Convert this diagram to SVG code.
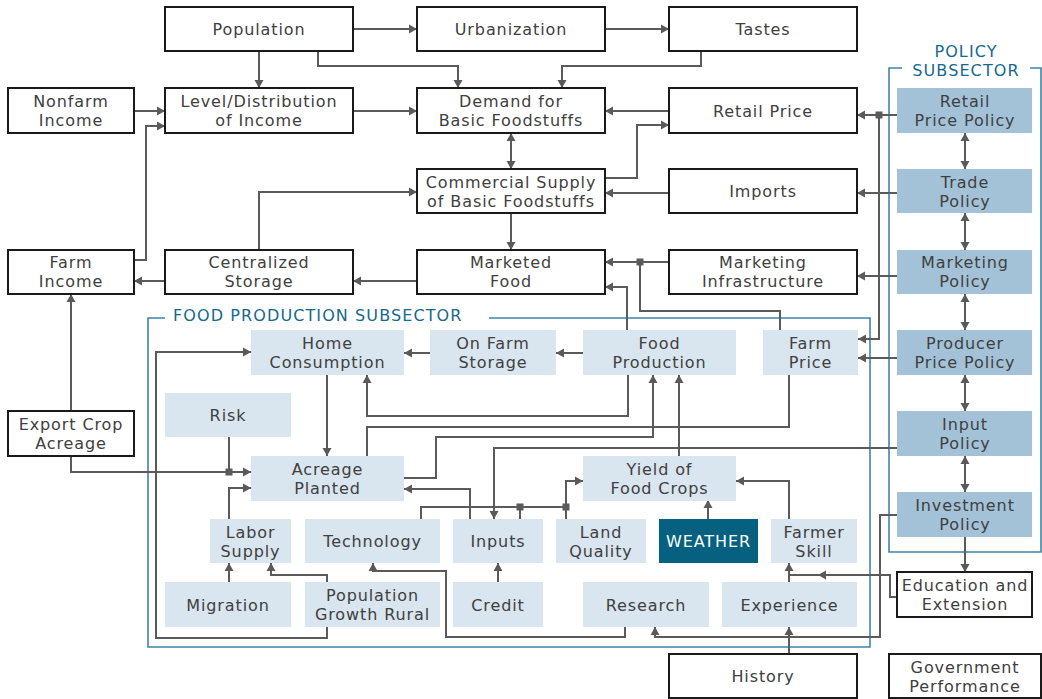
<svg xmlns="http://www.w3.org/2000/svg" width="1042" height="699" viewBox="0 0 1042 699">
<defs>
<marker id="ah" markerUnits="userSpaceOnUse" markerWidth="10" markerHeight="10" refX="8" refY="5" orient="auto-start-reverse" viewBox="0 0 10 10"><path d="M0,0.5 L8,5 L0,9.5 z" fill="#5a5a5a"/></marker>
<style>
.b{fill:#fff;stroke:#1a1a1a;stroke-width:2}
.f{fill:#d9e5ef}
.p{fill:#a3c2d8}
.w{fill:#05617f}
text{font-family:"DejaVu Sans","Open Sans",sans-serif;font-size:16px;fill:#404040;text-anchor:middle;letter-spacing:0.9px}
.tw{fill:#fff}
.lbl{fill:#15698d;text-anchor:start;letter-spacing:1.1px}
.lc{fill:#15698d;letter-spacing:1.1px}
.sub{fill:none;stroke:#3f85a8;stroke-width:1.6}
.c path{fill:none;stroke:#5a5a5a;stroke-width:2}
.a{marker-end:url(#ah)}
.d{marker-start:url(#ah);marker-end:url(#ah)}
.j{fill:#5a5a5a}
</style>
</defs>
<rect width="1042" height="699" fill="#fff"/>

<g id="subsectors">
<path class="sub" d="M165,318 H148 V647 H870 V318 H489"/>
<text class="lbl" x="173" y="321">FOOD PRODUCTION SUBSECTOR</text>
<path class="sub" d="M902,68 H889 V552 H1041 V68 H1030"/>
<text class="lc" x="966" y="57">POLICY</text>
<text class="lc" x="966" y="76">SUBSECTOR</text>
</g>

<g id="connectors" class="c">
<path class="a" d="M353,29 H417"/>
<path class="a" d="M605,29 H669"/>
<path class="a" d="M259,51 V88"/>
<path class="a" d="M318,51 V66 H458 V88"/>
<path class="a" d="M701,51 V66 H562 V88"/>
<path class="a" d="M134,111 H165"/>
<path class="a" d="M353,111 H417"/>
<path class="a" d="M669,111 H605"/>
<path class="d" d="M511,133 V169"/>
<path class="a" d="M605,178 H637 V125 H669"/>
<path class="a" d="M669,193 H605"/>
<path class="a" d="M259,250 V192 H417"/>
<path class="a" d="M511,213 V250"/>
<path class="a" d="M417,281 H353"/>
<path class="a" d="M165,281 H134"/>
<path class="a" d="M134,260 H146 V126 H165"/>
<path class="a" d="M669,262 H605"/>
<path d="M780,330 V311 H640 V262"/>
<path class="a" d="M627,330 V287 H605"/>
<path class="a" d="M897,115 H857"/>
<path class="a" d="M879,115 V339 H858"/>
<path class="a" d="M897,193 H857"/>
<path class="a" d="M897,276 H857"/>
<path class="a" d="M897,358 H858"/>
<path class="a" d="M897,448 H494 V519"/>
<path class="a" d="M965,537 V572"/>
<path class="a" d="M897,515 H880 V637 H655 V627"/>
<path class="a" d="M897,597 H890 V575 H818"/>
<path d="M818,575 H789"/>
<path class="a" d="M789,654 V627"/>
<path class="a" d="M789,582 V563"/>
<path class="a" d="M789,519 V481 H736"/>
<path class="a" d="M708,519 V500"/>
<path class="a" d="M679,456 V375"/>
<path d="M789,375 V427 H367 V456"/>
<path class="a" d="M628,375 V416 H367 V375"/>
<path class="a" d="M404,478 H436 V437 H653 V375"/>
<path class="a" d="M470,519 V489 H404"/>
<path d="M421,519 V507 H566"/>
<path d="M520,519 V507"/>
<path class="a" d="M566,519 V481 H583"/>
<path d="M229,437 V472"/>
<path class="a" d="M71,456 V472 H251"/>
<path class="a" d="M71,411 V294"/>
<path class="a" d="M327,375 V456"/>
<path class="a" d="M229,519 V488 H251"/>
<path class="a" d="M229,582 V563"/>
<path class="a" d="M327,582 V575 H271 V563"/>
<path class="a" d="M327,627 V638 H156 V352 H251"/>
<path class="a" d="M625,627 V637 H446 V571 H373 V563"/>
<path class="a" d="M498,582 V563"/>
<path class="a" d="M583,353 H556"/>
<path class="a" d="M430,353 H404"/>
<path class="d" d="M965,133 V169"/>
<path class="d" d="M965,213 V250"/>
<path class="d" d="M965,294 V330"/>
<path class="d" d="M965,375 V411"/>
<path class="d" d="M965,456 V492"/>
<rect class="j" x="636.5" y="258.5" width="7" height="7"/>
<rect class="j" x="875.5" y="111.5" width="7" height="7"/>
<rect class="j" x="516.5" y="503.5" width="7" height="7"/>
<rect class="j" x="562.5" y="503.5" width="7" height="7"/>
<rect class="j" x="225.5" y="468.5" width="7" height="7"/>
</g>

<g id="population"><rect class="b" x="165" y="7" width="188" height="44"/><text x="259" y="35">Population</text></g>
<g id="urbanization"><rect class="b" x="417" y="7" width="188" height="44"/><text x="511" y="35">Urbanization</text></g>
<g id="tastes"><rect class="b" x="669" y="7" width="188" height="44"/><text x="763" y="35">Tastes</text></g>

<g id="nonfarm-income"><rect class="b" x="8" y="88" width="126" height="45"/><text x="71" y="107">Nonfarm</text><text x="71" y="126">Income</text></g>
<g id="level-distribution"><rect class="b" x="165" y="88" width="188" height="45"/><text x="259" y="107">Level/Distribution</text><text x="259" y="126">of Income</text></g>
<g id="demand"><rect class="b" x="417" y="88" width="188" height="45"/><text x="511" y="107">Demand for</text><text x="511" y="126">Basic Foodstuffs</text></g>
<g id="retail-price"><rect class="b" x="669" y="88" width="188" height="45"/><text x="763" y="117">Retail Price</text></g>

<g id="commercial-supply"><rect class="b" x="417" y="169" width="188" height="44"/><text x="511" y="187.5">Commercial Supply</text><text x="511" y="206.5">of Basic Foodstuffs</text></g>
<g id="imports"><rect class="b" x="669" y="169" width="188" height="44"/><text x="763" y="197">Imports</text></g>

<g id="farm-income"><rect class="b" x="8" y="250" width="126" height="44"/><text x="71" y="268">Farm</text><text x="71" y="287">Income</text></g>
<g id="centralized-storage"><rect class="b" x="165" y="250" width="188" height="44"/><text x="259" y="268">Centralized</text><text x="259" y="287">Storage</text></g>
<g id="marketed-food"><rect class="b" x="417" y="250" width="188" height="44"/><text x="511" y="268">Marketed</text><text x="511" y="287">Food</text></g>
<g id="marketing-infrastructure"><rect class="b" x="669" y="250" width="188" height="44"/><text x="763" y="268">Marketing</text><text x="763" y="287">Infrastructure</text></g>

<g id="retail-price-policy"><rect class="p" x="897" y="88" width="135" height="45"/><text x="965" y="107">Retail</text><text x="965" y="126">Price Policy</text></g>
<g id="trade-policy"><rect class="p" x="897" y="169" width="135" height="44"/><text x="965" y="187.5">Trade</text><text x="965" y="206.5">Policy</text></g>
<g id="marketing-policy"><rect class="p" x="897" y="250" width="135" height="44"/><text x="965" y="268">Marketing</text><text x="965" y="287">Policy</text></g>
<g id="producer-price-policy"><rect class="p" x="897" y="330" width="135" height="45"/><text x="965" y="349">Producer</text><text x="965" y="368">Price Policy</text></g>
<g id="input-policy"><rect class="p" x="897" y="411" width="135" height="45"/><text x="965" y="430">Input</text><text x="965" y="449">Policy</text></g>
<g id="investment-policy"><rect class="p" x="897" y="492" width="135" height="45"/><text x="965" y="511">Investment</text><text x="965" y="530">Policy</text></g>

<g id="home-consumption"><rect class="f" x="251" y="330" width="153" height="45"/><text x="327.5" y="349">Home</text><text x="327.5" y="368">Consumption</text></g>
<g id="on-farm-storage"><rect class="f" x="430" y="330" width="126" height="45"/><text x="493" y="349">On Farm</text><text x="493" y="368">Storage</text></g>
<g id="food-production"><rect class="f" x="583" y="330" width="153" height="45"/><text x="659.5" y="349">Food</text><text x="659.5" y="368">Production</text></g>
<g id="farm-price"><rect class="f" x="763" y="330" width="95" height="45"/><text x="810.5" y="349">Farm</text><text x="810.5" y="368">Price</text></g>
<g id="risk"><rect class="f" x="165" y="393" width="126" height="44"/><text x="228" y="421">Risk</text></g>
<g id="acreage-planted"><rect class="f" x="251" y="456" width="153" height="45"/><text x="327.5" y="475">Acreage</text><text x="327.5" y="494">Planted</text></g>
<g id="yield"><rect class="f" x="583" y="456" width="153" height="45"/><text x="659.5" y="475">Yield of</text><text x="659.5" y="494">Food Crops</text></g>
<g id="labor-supply"><rect class="f" x="210" y="519" width="81" height="44"/><text x="250.5" y="537.5">Labor</text><text x="250.5" y="556.5">Supply</text></g>
<g id="technology"><rect class="f" x="305" y="519" width="135" height="44"/><text x="372.5" y="547">Technology</text></g>
<g id="inputs"><rect class="f" x="453" y="519" width="90" height="44"/><text x="498" y="547">Inputs</text></g>
<g id="land-quality"><rect class="f" x="556" y="519" width="90" height="44"/><text x="601" y="537.5">Land</text><text x="601" y="556.5">Quality</text></g>
<g id="weather"><rect class="w" x="659" y="519" width="99" height="44"/><text class="tw" x="708.5" y="547">WEATHER</text></g>
<g id="farmer-skill"><rect class="f" x="771" y="519" width="86" height="44"/><text x="814" y="537.5">Farmer</text><text x="814" y="556.5">Skill</text></g>
<g id="migration"><rect class="f" x="165" y="582" width="126" height="45"/><text x="228" y="610.5">Migration</text></g>
<g id="population-growth-rural"><rect class="f" x="305" y="582" width="135" height="45"/><text x="372.5" y="601">Population</text><text x="372.5" y="620">Growth Rural</text></g>
<g id="credit"><rect class="f" x="453" y="582" width="90" height="45"/><text x="498" y="610.5">Credit</text></g>
<g id="research"><rect class="f" x="583" y="582" width="126" height="45"/><text x="646" y="610.5">Research</text></g>
<g id="experience"><rect class="f" x="722" y="582" width="135" height="45"/><text x="789.5" y="610.5">Experience</text></g>

<g id="export-crop-acreage"><rect class="b" x="8" y="411" width="126" height="45"/><text x="71" y="430">Export Crop</text><text x="71" y="449">Acreage</text></g>
<g id="education-extension"><rect class="b" x="897" y="572" width="135" height="45"/><text x="965" y="591">Education and</text><text x="965" y="610">Extension</text></g>
<g id="history"><rect class="b" x="669" y="654" width="188" height="44"/><text x="763" y="682">History</text></g>
<g id="government-performance"><rect class="b" x="889" y="654" width="152" height="44"/><text x="965" y="672.5">Government</text><text x="965" y="691.5">Performance</text></g>
</svg>
